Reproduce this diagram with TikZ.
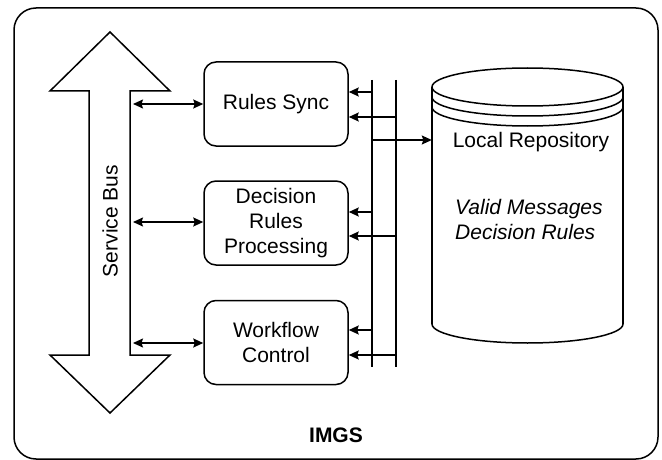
\documentclass[tikz,border=0pt]{standalone}
\usepackage{fontspec}
\setmainfont{Liberation Sans}
\usetikzlibrary{arrows.meta}
\begin{document}
\begin{tikzpicture}[x=1pt, y=-1pt,
  every node/.style={font=\fontsize{21}{25}\selectfont, inner sep=0pt},
  line/.style={line width=1.5pt},
  procbox/.style={draw, line width=1.5pt, rounded corners=12pt,
    minimum width=144pt, minimum height=84pt, align=center},
  tip/.style={-{Stealth[length=10pt, width=9pt, inset=1.5pt]}},
  dtip/.style={{Stealth[length=10pt, width=9pt, inset=1.5pt]}-{Stealth[length=10pt, width=9pt, inset=1.5pt]}}
]
\useasboundingbox (0,0) rectangle (662,460);

% enclosing system boundary
\node[draw, line width=1.5pt, rounded corners=22pt, minimum width=644pt,
  minimum height=451pt] (imgs) at (336,233.5) {};
\node[font=\fontsize{21}{25}\selectfont\bfseries] (imgslabel) at (336,435) {IMGS};

% service bus: double-headed block arrow
\draw[line width=1.5pt, line join=miter]
  (110,32) -- (170,91) -- (130,91) -- (130,355) -- (170,355) -- (110,413)
  -- (50,355) -- (89,355) -- (89,91) -- (50,91) -- cycle;
\node[rotate=90] (bus) at (110,221) {Service Bus};

% processing components
\node[procbox] (rs)  at (276,104)   {Rules Sync};
\node[procbox] (drp) at (276,223)   {Decision\\Rules\\Processing};
\node[procbox] (wc)  at (276,342.5) {Workflow\\Control};

% bus taps
\coordinate (b1) at (133,104);
\coordinate (b2) at (133,222);
\coordinate (b3) at (133,343);
\draw[line, dtip] (b1) -- (b1 -| rs.west);
\draw[line, dtip] (b2) -- (b2 -| drp.west);
\draw[line, dtip] (b3) -- (b3 -| wc.west);

% two vertical rails
\coordinate (v1t) at (372,80);  \coordinate (v1b) at (372,367);
\coordinate (v2t) at (396,80);  \coordinate (v2b) at (396,367);
\draw[line] (v1t) -- (v1b);
\draw[line] (v2t) -- (v2b);

% local repository cylinder
\node[minimum width=191pt, minimum height=276pt] (repo) at (527.5,205) {};
\draw[line] (527.5,87) ellipse [x radius=95.5, y radius=19];
\foreach \cy in {97,107,324}{
  \begin{scope}
    \clip (420,\cy) rectangle (640,\cy+30);
    \draw[line] (527.5,\cy) ellipse [x radius=95.5, y radius=19];
  \end{scope}
}
\draw[line] (432,87) -- (432,324);
\draw[line] (623,87) -- (623,324);
\node (lr) at (531,142) {Local Repository};
\node[anchor=west, align=left, font=\fontsize{21}{25}\selectfont\itshape]
  (content) at (455,219.5) {Valid Messages\\Decision Rules};

% rail connections
\coordinate (a0) at (372,140);
\draw[line, tip] (a0) -- (a0 -| repo.west);
\coordinate (r1) at (372,92);   \draw[line, tip] (r1) -- (r1 -| rs.east);
\coordinate (r2) at (396,117);  \draw[line, tip] (r2) -- (r2 -| rs.east);
\coordinate (d1) at (372,212);  \draw[line, tip] (d1) -- (d1 -| drp.east);
\coordinate (d2) at (396,236);  \draw[line, tip] (d2) -- (d2 -| drp.east);
\coordinate (w1) at (372,330);  \draw[line, tip] (w1) -- (w1 -| wc.east);
\coordinate (w2) at (396,355);  \draw[line, tip] (w2) -- (w2 -| wc.east);
\end{tikzpicture}
\end{document}
